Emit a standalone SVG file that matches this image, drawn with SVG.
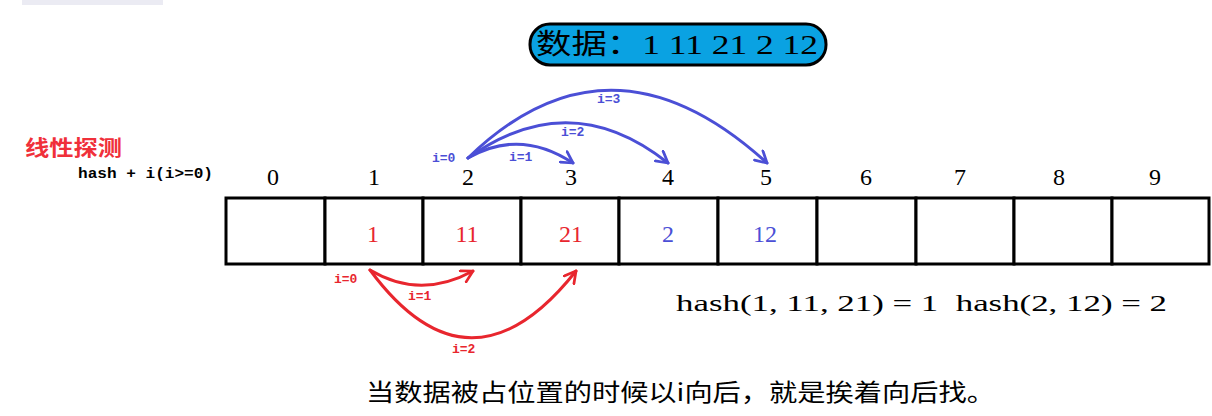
<svg xmlns="http://www.w3.org/2000/svg" width="1212" height="416" viewBox="0 0 1212 416">
<style>
.cell{fill:#fff;stroke:#000;stroke-width:3}
.idx{font-family:"Liberation Serif",serif;font-size:24px;fill:#000;text-anchor:middle}
.vr{font-family:"Liberation Serif",serif;font-size:24px;fill:#e8262e;text-anchor:middle}
.vb{font-family:"Liberation Serif",serif;font-size:24px;fill:#4b4fd6;text-anchor:middle}
.lb{font-family:"Liberation Mono",monospace;font-weight:bold;font-size:13px;fill:#4b4fd6}
.lr{font-family:"Liberation Mono",monospace;font-weight:bold;font-size:13px;fill:#e8262e}
.ab{fill:none;stroke:#4b4fd6;stroke-width:3;stroke-linecap:round}
.ar{fill:none;stroke:#e8262e;stroke-width:3;stroke-linecap:round}
</style>
<defs>
<marker id="mb" viewBox="0 0 12 12" refX="10" refY="6" markerWidth="15" markerHeight="15" markerUnits="userSpaceOnUse" orient="auto">
<path d="M1,1 L10,6 L1,11" fill="none" stroke="#4b4fd6" stroke-width="2.2" stroke-linecap="round" stroke-linejoin="round"/>
</marker>
<marker id="mr" viewBox="0 0 12 12" refX="10" refY="6" markerWidth="15" markerHeight="15" markerUnits="userSpaceOnUse" orient="auto">
<path d="M1,1 L10,6 L1,11" fill="none" stroke="#e8262e" stroke-width="2.2" stroke-linecap="round" stroke-linejoin="round"/>
</marker>
</defs>
<rect x="0" y="0" width="1212" height="416" fill="#fff"/>
<rect x="22" y="0" width="141" height="5" fill="#ebebf3"/>

<g id="title">
<rect x="530" y="24" width="296" height="41" rx="20" ry="20" fill="#0aa2e2" stroke="#000" stroke-width="3"/>
<text x="536" y="54" font-family="'Liberation Serif','Noto Sans CJK SC',serif" font-size="28" fill="#000" textLength="282" lengthAdjust="spacingAndGlyphs">数据：1 11 21 2 12</text>
</g>

<g id="heading">
<text x="25" y="155" font-family="'Noto Sans CJK SC',sans-serif" font-weight="bold" font-size="21" fill="#f0303a" textLength="97" lengthAdjust="spacingAndGlyphs">线性探测</text>
<text x="78" y="178" font-family="'Liberation Mono',monospace" font-weight="bold" font-size="15" fill="#000" textLength="135" lengthAdjust="spacingAndGlyphs">hash + i(i&gt;=0)</text>
</g>

<g id="indices">
<text class="idx" x="273" y="185">0</text>
<text class="idx" x="374" y="185">1</text>
<text class="idx" x="468" y="185">2</text>
<text class="idx" x="571" y="185">3</text>
<text class="idx" x="668" y="185">4</text>
<text class="idx" x="766" y="185">5</text>
<text class="idx" x="866" y="185">6</text>
<text class="idx" x="960" y="185">7</text>
<text class="idx" x="1059" y="185">8</text>
<text class="idx" x="1155" y="185">9</text>
</g>

<g id="cell0"><rect class="cell" x="226" y="198" width="99" height="66"/></g>
<g id="cell1"><rect class="cell" x="325" y="198" width="98" height="66"/><text class="vr" x="373" y="242">1</text></g>
<g id="cell2"><rect class="cell" x="423" y="198" width="98" height="66"/><text class="vr" x="467" y="242">11</text></g>
<g id="cell3"><rect class="cell" x="521" y="198" width="98" height="66"/><text class="vr" x="571" y="242">21</text></g>
<g id="cell4"><rect class="cell" x="619" y="198" width="99" height="66"/><text class="vb" x="668" y="242">2</text></g>
<g id="cell5"><rect class="cell" x="718" y="198" width="99" height="66"/><text class="vb" x="765" y="242">12</text></g>
<g id="cell6"><rect class="cell" x="817" y="198" width="99" height="66"/></g>
<g id="cell7"><rect class="cell" x="916" y="198" width="98" height="66"/></g>
<g id="cell8"><rect class="cell" x="1014" y="198" width="98" height="66"/></g>
<g id="cell9"><rect class="cell" x="1112" y="198" width="97" height="66"/></g>

<g id="connectors">
<path class="ab" d="M468,158 Q520,128 573,163" marker-end="url(#mb)"/>
<path class="ab" d="M468,158 Q570,85 668,163" marker-end="url(#mb)"/>
<path class="ab" d="M468,158 Q610,20 767,163" marker-end="url(#mb)"/>
<path class="ar" d="M370,270 Q420,300 473,271" marker-end="url(#mr)"/>
<path class="ar" d="M370,270 Q470,405 576,271" marker-end="url(#mr)"/>
</g>

<g id="arc-labels">
<text class="lb" x="432" y="162">i=0</text>
<text class="lb" x="509" y="161">i=1</text>
<text class="lb" x="561" y="136">i=2</text>
<text class="lb" x="597" y="103">i=3</text>
<text class="lr" x="334" y="283">i=0</text>
<text class="lr" x="408" y="300">i=1</text>
<text class="lr" x="452" y="353">i=2</text>
</g>

<g id="hash-note">
<text x="676" y="311" font-family="'Liberation Serif',serif" font-size="23" fill="#000" textLength="491" lengthAdjust="spacingAndGlyphs" xml:space="preserve">hash(1, 11, 21) = 1  hash(2, 12) = 2</text>
</g>

<g id="caption">
<text x="366" y="401" font-family="'Noto Sans CJK SC',sans-serif" font-size="24" fill="#000" textLength="629" lengthAdjust="spacingAndGlyphs">当数据被占位置的时候以i向后，就是挨着向后找。</text>
</g>
</svg>
